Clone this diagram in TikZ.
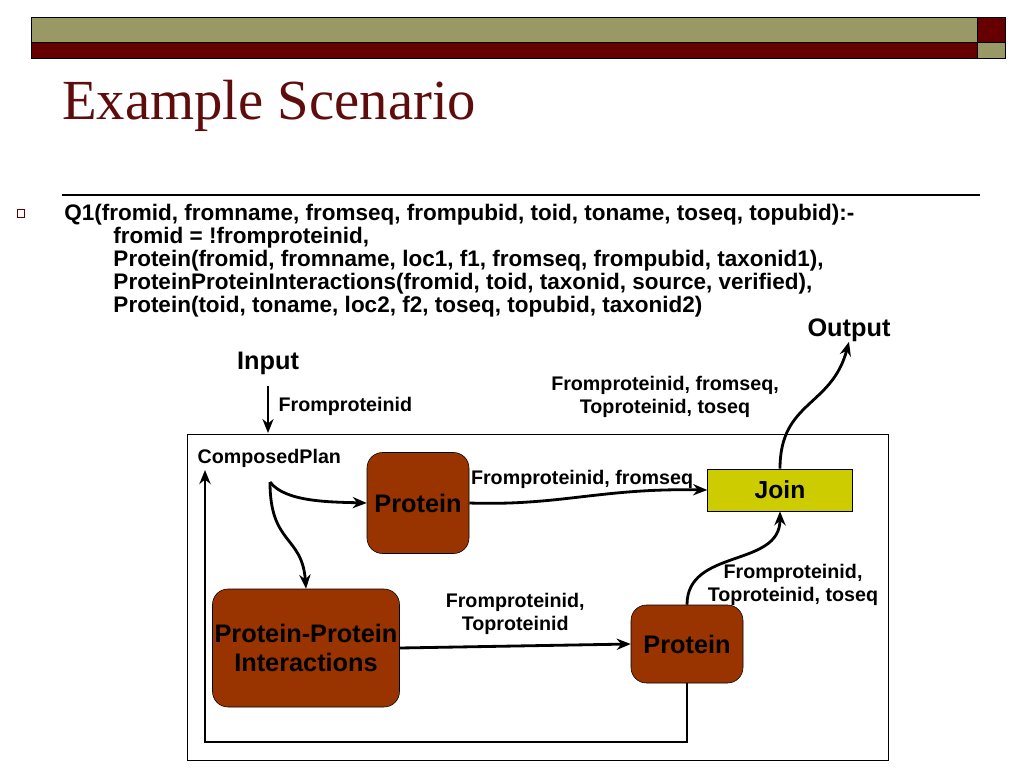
\documentclass[tikz,border=0pt]{standalone}
\usepackage{fontspec}
\setmainfont{Liberation Sans}
\newfontfamily\titlefont{Liberation Serif}
\usetikzlibrary{arrows.meta,positioning,calc}
\definecolor{barolive}{RGB}{153,153,102}
\definecolor{barred}{RGB}{102,0,0}
\definecolor{titlered}{RGB}{94,12,12}
\definecolor{protbrown}{RGB}{153,51,0}
\definecolor{joinyellow}{RGB}{204,204,0}

\begin{document}
\begin{tikzpicture}[x=0.025cm,y=-0.025cm,
  op/.style={draw=black,fill=protbrown,rounded corners=11pt,
             font=\fontsize{18}{21}\selectfont\bfseries,align=center,
             inner sep=0pt},
  joinbox/.style={draw=black,fill=joinyellow,
             font=\fontsize{17.5}{20}\selectfont\bfseries,inner sep=0pt},
  flow/.style={-{Stealth[length=10pt,width=8pt]},line width=2pt},
  lbl/.style={font=\fontsize{14}{16.4}\selectfont\bfseries,align=center,inner sep=1pt},
  big/.style={font=\fontsize{18}{21}\selectfont\bfseries,inner sep=0pt}
]
\useasboundingbox (0,0) rectangle (1024,768);
% header bars
\fill[barolive] (31,17) rectangle (977,42);
\fill[barred] (31,42) rectangle (977,58);
\fill[barred] (977,17) rectangle (1005,42);
\fill[barolive] (977,42) rectangle (1005,58);
\draw[line width=0.6pt] (31,17) rectangle (1005,58) (31,42) -- (1005,42) (977,17) -- (977,58);
% title
\node[anchor=base west,inner sep=0pt,text=titlered,
      font=\titlefont\fontsize{40.3}{42}\selectfont] (title) at (62,120) {Example Scenario};
\draw[line width=0.8pt] (62,195) -- (980,195);
% query text
\draw[barred,line width=0.7pt] (17,209) rectangle (24,217);
\node[anchor=north west,inner sep=0pt,align=left,
      font=\fontsize{16}{16.4}\selectfont\bfseries] (query) at (64,204)
  {Q1(fromid, fromname, fromseq, frompubid, toid, toname, toseq, topubid):-\\
   \hspace*{35pt}fromid = !fromproteinid,\\
   \hspace*{35pt}Protein(fromid, fromname, loc1, f1, fromseq, frompubid, taxonid1),\\
   \hspace*{35pt}ProteinProteinInteractions(fromid, toid, taxonid, source, verified),\\
   \hspace*{35pt}Protein(toid, toname, loc2, f2, toseq, topubid, taxonid2)};

% plan frame
\node[draw=black,line width=0.6pt,minimum width=701*0.025cm,minimum height=326*0.025cm,
      anchor=north west,inner sep=0pt] (plan) at (187,434) {};
\node[lbl,anchor=west] (cplan) at (196,458) {ComposedPlan};
\coordinate (split) at (270,482);
\coordinate (fbtop) at (205,470);

% operators
\node[op,minimum width=102*0.025cm,minimum height=101*0.025cm] (prot1) at (418,503) {Protein};
\node[op,minimum width=187*0.025cm,minimum height=118*0.025cm] (ppi) at (306,648)
  {Protein-Protein\\Interactions};
\node[op,minimum width=112*0.025cm,minimum height=78*0.025cm] (prot2) at (687,644) {Protein};
\node[joinbox,minimum width=145*0.025cm,minimum height=42*0.025cm] (join) at (780,490) {Join};

% input / output
\node[big] (input) at (268,363) {Input};
\node[big] (output) at (849,330) {Output};
\coordinate (inend) at (268,433);
\draw[flow,line width=1.4pt] (268,386) -- (inend);
\node[lbl,anchor=west] (inlbl) at (277,406) {Fromproteinid};

% connectors
\draw[flow] (split) .. controls (285,502) and (330,502) .. (prot1.west);
\draw[flow] (split) .. controls (270,545) and (302,535) .. (ppi.north);
\draw[flow] (prot1.east) .. controls (560,506) and (600,488) .. (join.west)
  node[lbl,pos=0.5,above=4pt] {Fromproteinid, fromseq};
\draw[flow] (ppi.east) -- (prot2.west)
  node[lbl,midway,above=6pt] {Fromproteinid,\\Toproteinid};
\draw[flow] (prot2.north) to[out=90,in=-90,looseness=1.1] (join.south);
\node[lbl] (p2lbl) at (793,585) {Fromproteinid,\\Toproteinid, toseq};
\draw[flow] (join.north) to[out=90,in=-105,looseness=1.2] (output.south);
\node[lbl] (outlbl) at (665,397) {Fromproteinid, fromseq,\\Toproteinid, toseq};
\draw[flow] (prot2.south) |- (205,742) -- (fbtop);
\end{tikzpicture}
\end{document}
